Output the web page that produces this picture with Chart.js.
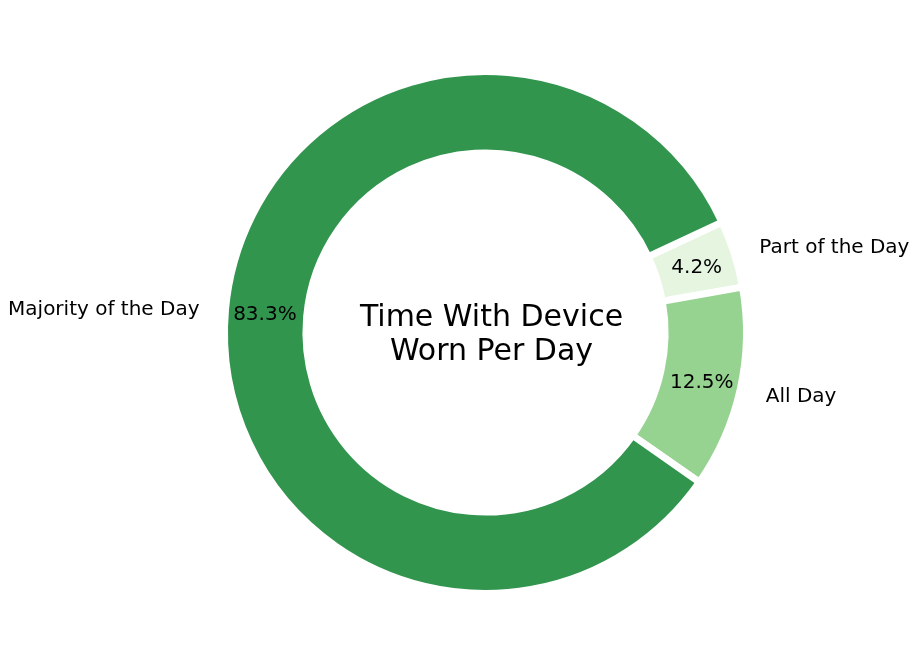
<!DOCTYPE html>
<html>
<head>
<meta charset="utf-8">
<script src="https://cdn.jsdelivr.net/npm/chart.js@4"></script>
<style>
  html, body { margin: 0; padding: 0; background: #ffffff; }
  #wrap { width: 917px; height: 666px; position: relative; }
</style>
</head>
<body>
<div id="wrap"><canvas id="c" width="917" height="666"></canvas></div>
<script>
const categories = ["Part of the Day", "All Day", "Majority of the Day"];
const counts = [1, 3, 20];
const sliceColors = ["#e5f5e0", "#96d391", "#31954e"];
const centerTitle = ["Time With Device", "Worn Per Day"];

const FONT = "'DejaVu Sans', sans-serif";
const BW = 7;

const labelPlugin = {
  id: 'donutLabels',
  afterDatasetsDraw(chart) {
    const ctx = chart.ctx;
    const meta = chart.getDatasetMeta(0);
    const total = counts.reduce((a, b) => a + b, 0);
    let cx = 0, cy = 0;
    ctx.save();
    meta.data.forEach((arc, i) => {
      const p = arc.getProps(['x', 'y', 'startAngle', 'endAngle', 'outerRadius'], true);
      cx = p.x; cy = p.y;
      const R = p.outerRadius - BW / 2;
      const mid = (p.startAngle + p.endAngle) / 2;
      const c = Math.cos(mid), s = Math.sin(mid);
      // outside label
      ctx.font = "20px " + FONT;
      ctx.fillStyle = "#000";
      ctx.textBaseline = "middle";
      ctx.textAlign = c >= 0 ? "left" : "right";
      ctx.fillText(categories[i], p.x + c * p.outerRadius * 1.1, p.y + s * p.outerRadius * 1.1 + 2);
      // percent label
      ctx.textAlign = "center";
      const pct = (counts[i] / total * 100).toFixed(1) + "%";
      ctx.fillText(pct, p.x + c * R * 0.86, p.y + s * R * 0.86 + 2);
    });
    ctx.font = "30px " + FONT;
    ctx.textAlign = "center";
    ctx.textBaseline = "middle";
    ctx.fillText(centerTitle[0], cx + 6, cy - 14);
    ctx.fillText(centerTitle[1], cx + 6, cy + 20);
    ctx.restore();
  }
};

new Chart(document.getElementById('c'), {
  type: 'doughnut',
  data: {
    labels: categories,
    datasets: [{
      data: counts,
      backgroundColor: sliceColors,
      borderColor: '#ffffff',
      borderWidth: BW,
      hoverOffset: 0
    }]
  },
  options: {
    responsive: false,
    animation: false,
    rotation: 65,
    cutout: '68.8%',
    layout: { padding: { top: 68, bottom: 69, left: 154, right: 100 } },
    plugins: {
      legend: { display: false },
      tooltip: { enabled: false },
      title: { display: false }
    }
  },
  plugins: [labelPlugin]
});
</script>
</body>
</html>
